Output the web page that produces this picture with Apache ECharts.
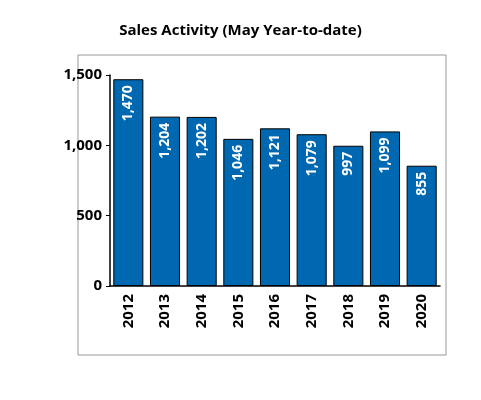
<!DOCTYPE html>
<html><head><meta charset="utf-8">
<script src="https://cdn.jsdelivr.net/npm/echarts@6/dist/echarts.min.js"></script>
<style>body{margin:0}#c{width:481px;height:400px}</style></head>
<body><div id="c"></div>
<script>
const years = ['2012','2013','2014','2015','2016','2017','2018','2019','2020'];
const sales = [1470,1204,1202,1046,1121,1079,997,1099,855];
const yTicks = [0,500,1000,1500];
const font = 'Open Sans';

const chart = echarts.init(document.getElementById('c'));
chart.setOption({
  animation: false,
  title: { text: 'Sales Activity (May Year-to-date)', left: 'center', top: 18,
    textStyle: { fontFamily: font, fontSize: 15, fontWeight: 'bold', color: '#000' } },
  graphic: [{ type: 'rect', shape: { x: 78, y: 55, width: 368, height: 300 },
    style: { fill: 'none', stroke: '#999', lineWidth: 1 } }],
  grid: { left: 110, right: 41, top: 75, bottom: 114 },
  xAxis: { type: 'category', data: years,
    axisLine: { lineStyle: { color: '#000', width: 1.5 } }, axisTick: { show: false },
    axisLabel: { rotate: 90, color: '#000', fontWeight: 'bold', fontSize: 15, fontFamily: font, margin: 8 } },
  yAxis: { type: 'value', min: 0, max: yTicks[yTicks.length - 1], interval: 500,
    splitLine: { show: false },
    axisLine: { show: true, lineStyle: { color: '#000', width: 1.5 } },
    axisTick: { show: true, length: 4, lineStyle: { color: '#000' } },
    axisLabel: { color: '#000', fontWeight: 'bold', fontSize: 15, fontFamily: font,
      formatter: v => v.toLocaleString('en-US') } },
  series: [{ type: 'bar', data: sales, barCategoryGap: '18%',
    itemStyle: { color: '#0068b0', borderColor: '#000', borderWidth: 1 },
    label: { show: true, position: 'insideTop', rotate: 90, align: 'right', verticalAlign: 'middle',
      distance: 6, color: '#fff', fontWeight: 'bold', fontSize: 14, fontFamily: font,
      formatter: p => p.value.toLocaleString('en-US') } }]
});
</script></body></html>
